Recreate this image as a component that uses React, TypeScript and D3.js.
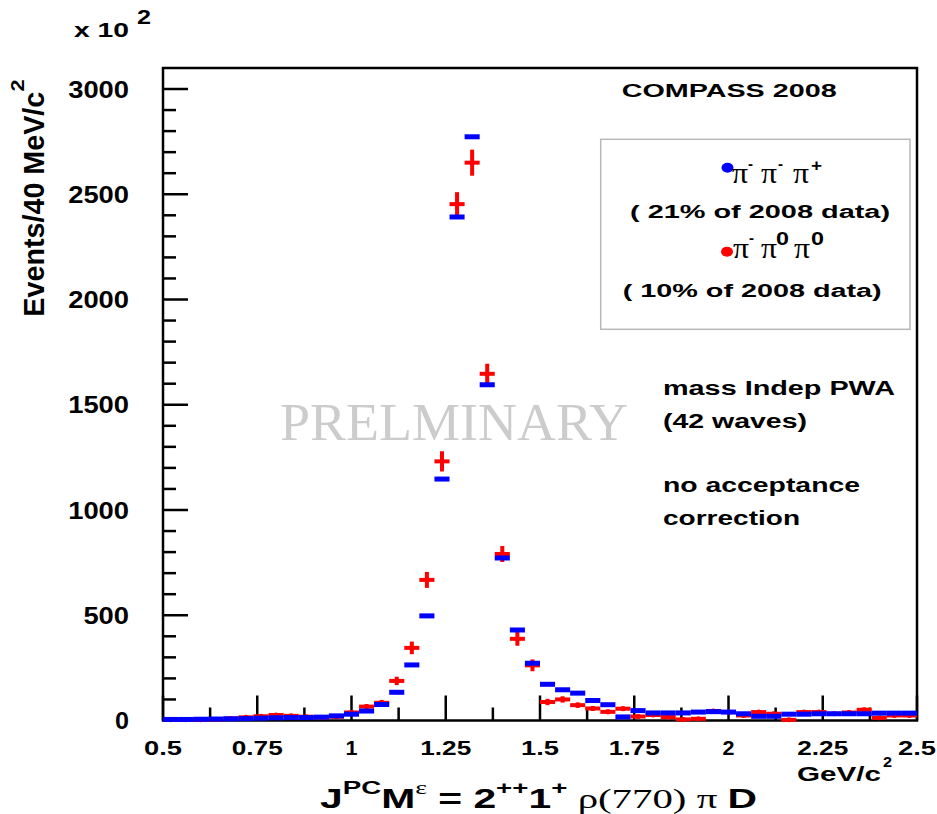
import React from "react";
import * as d3 from "d3";

// Bin centres (GeV/c^2), 40 MeV bins from 0.5 to 2.5
const binCenters = [
  0.52, 0.56, 0.6, 0.64, 0.68, 0.72, 0.76, 0.8, 0.84, 0.88,
  0.92, 0.96, 1.0, 1.04, 1.08, 1.12, 1.16, 1.2, 1.24, 1.28,
  1.32, 1.36, 1.4, 1.44, 1.48, 1.52, 1.56, 1.6, 1.64, 1.68,
  1.72, 1.76, 1.8, 1.84, 1.88, 1.92, 1.96, 2.0, 2.04, 2.08,
  2.12, 2.16, 2.2, 2.24, 2.28, 2.32, 2.36, 2.4, 2.44, 2.48,
];
const binWidth = 0.04;

// pi- pi- pi+ (blue), events / 40 MeV
const blueValues = [
  5, 5, 6, 7, 8, 9, 11, 13, 14, 14,
  16, 22, 30, 45, 76, 134, 264, 497, 1147, 2392,
  2773, 1595, 772, 430, 272, 172, 146, 130, 95, 75,
  17, 47, 36, 36, 36, 40, 42, 40, 32, 20,
  20, 30, 30, 32, 32, 32, 32, 35, 35, 35,
];

// pi- pi0 pi0 (red), events / 40 MeV
const redValues = [
  3, 3, 4, 6, 10, 15, 20, 26, 22, 18,
  15, 18, 38, 66, 84, 188, 345, 668, 1231, 2453,
  2650, 1647, 791, 388, 262, 88, 100, 73, 57, 41,
  56, 19, 26, 16, 5, 8, 45, 40, 24, 40,
  32, 3, 40, 40, 32, 38, 51, 13, 24, 24,
];
const redErrors = [
  6, 6, 6, 6, 7, 7, 8, 8, 8, 8,
  8, 8, 10, 12, 14, 20, 30, 38, 48, 57,
  62, 48, 38, 33, 28, 15, 15, 13, 12, 11,
  11, 9, 9, 9, 8, 8, 10, 10, 9, 10,
  9, 8, 10, 10, 9, 10, 10, 8, 9, 9,
];

const yMajorTicks = [0, 500, 1000, 1500, 2000, 2500, 3000];
const yMinorStep = 100;
const xMajorTicks = [0.5, 0.75, 1, 1.25, 1.5, 1.75, 2, 2.25, 2.5];
const xTickLabels = ["0.5", "0.75", "1", "1.25", "1.5", "1.75", "2", "2.25", "2.5"];
const xMinorStep = 0.125;

const W = 937;
const H = 814;
const left = 163;
const right = 917;
const top = 68;
const bottom = 720.5;

const SANS = "'Liberation Sans', Arial, Helvetica, sans-serif";
const SERIF = "'Liberation Serif', 'Times New Roman', serif";

export default function App() {
  const x = d3.scaleLinear().domain([0.5, 2.5]).range([left, right]);
  const y = d3.scaleLinear().domain([0, 3000]).range([bottom, 89]);

  const yMinor = d3.range(0, 3000 + 1, yMinorStep).filter((v) => v % 500 !== 0);
  const xMinor = d3
    .range(0.5, 2.5 + 1e-9, xMinorStep)
    .filter((v) => Math.abs((v / 0.25) - Math.round(v / 0.25)) > 1e-6);

  const labelLen = (s: string, per: number, one: number) =>
    s.length === 1 ? one : per * s.length;

  const T = (props: any) => (
    <text fontFamily={SANS} fontWeight="bold" lengthAdjust="spacingAndGlyphs" {...props} />
  );
  const P = (props: any) => (
    <text fontFamily={SERIF} fontSize={29} lengthAdjust="spacingAndGlyphs" textLength={16} {...props}>π</text>
  );

  return (
    <svg
      width={W}
      height={H}
      style={{ position: "absolute", left: 0, top: 0, background: "#fff" }}
      xmlns="http://www.w3.org/2000/svg"
    >
      <rect x={0} y={0} width={W} height={H} fill="#fff" />

      {/* x 10^2 */}
      <T x={74} y={37} fontSize={21} textLength={55}>x 10</T>
      <T x={137} y={24} fontSize={20} textLength={14}>2</T>

      {/* PRELIMINARY watermark */}
      <text x={280} y={440} fontFamily={SERIF} fontSize={53} fill="#cccccc" textLength={348} lengthAdjust="spacingAndGlyphs">PRELMINARY</text>

      {/* y ticks */}
      {yMajorTicks.map((v) => (
        <line key={"ym" + v} x1={left} x2={left + 25} y1={y(v)} y2={y(v)} stroke="#000" strokeWidth={2.5} />
      ))}
      {yMinor.map((v) => (
        <line key={"yn" + v} x1={left} x2={left + 13} y1={y(v)} y2={y(v)} stroke="#000" strokeWidth={2.5} />
      ))}
      {/* x ticks */}
      {xMajorTicks.map((v) => (
        <line key={"xm" + v} x1={x(v)} x2={x(v)} y1={bottom} y2={bottom - 25} stroke="#000" strokeWidth={2.5} />
      ))}
      {xMinor.map((v) => (
        <line key={"xn" + v} x1={x(v)} x2={x(v)} y1={bottom} y2={bottom - 13} stroke="#000" strokeWidth={2.5} />
      ))}

      {/* frame */}
      <rect x={left} y={top} width={right - left} height={bottom - top} fill="none" stroke="#000" strokeWidth={2.5} />

      {/* y tick labels */}
      {yMajorTicks.map((v) => {
        const s = String(v);
        return (
          <T
            key={"yl" + v}
            x={129}
            y={y(v) + 8.5}
            textAnchor="end"
            fontSize={23}
            textLength={labelLen(s, 15.2, 14)}
          >
            {s}
          </T>
        );
      })}

      {/* x tick labels */}
      {xMajorTicks.map((v, i) => {
        const s = xTickLabels[i];
        const len = s.length === 1 ? 12 : s.length === 3 ? 38 : 51;
        return (
          <T key={"xl" + v} x={x(v)} y={755} textAnchor="middle" fontSize={20} textLength={len}>
            {s}
          </T>
        );
      })}

      {/* axis titles */}
      <T transform="translate(43.5,316.7) rotate(-90)" fontSize={29} textLength={225}>Events/40 MeV/c</T>
      <T transform="translate(23.5,91.5) rotate(-90)" fontSize={19} textLength={12}>2</T>

      <T x={797} y={781} fontSize={20} textLength={84}>GeV/c</T>
      <T x={883} y={767} fontSize={15} textLength={9}>2</T>

      <T x={320} y={808} fontSize={28} textLength={437}>
        <tspan>J</tspan>
        <tspan fontSize={19} dy={-14}>PC</tspan>
        <tspan dy={14}>M</tspan>
        <tspan fontSize={19} fontFamily={SERIF} fontWeight="normal" dy={-14}>ε</tspan>
        <tspan dy={14}> = 2</tspan>
        <tspan fontSize={19} dy={-14}>++</tspan>
        <tspan dy={14}>1</tspan>
        <tspan fontSize={19} dy={-14}>+</tspan>
        <tspan dy={14} fontFamily={SERIF} fontWeight="normal"> ρ(770) π </tspan>
        <tspan>D</tspan>
      </T>

      {/* COMPASS label */}
      <T x={621.7} y={97.3} fontSize={18.6} textLength={215}>COMPASS 2008</T>

      {/* legend */}
      <rect x={600.7} y={139.3} width={309.3} height={190} fill="#fff" stroke="#b8b8b8" strokeWidth={1.5} />
      <ellipse cx={727.5} cy={167.7} rx={6} ry={5} fill="#0000ff" />
      <P x={732} y={183} />
      <T x={748} y={169} fontSize={14} textLength={5}>-</T>
      <P x={761} y={183} />
      <T x={778} y={169} fontSize={14} textLength={5}>-</T>
      <P x={793} y={183} />
      <T x={811} y={171} fontSize={16} textLength={11}>+</T>
      <T x={630} y={218} fontSize={18} textLength={260}>( 21% of 2008 data)</T>

      <ellipse cx={727} cy={251.7} rx={6} ry={5} fill="#ff0000" />
      <P x={733} y={258} />
      <T x={749} y={243} fontSize={14} textLength={5}>-</T>
      <P x={761} y={258} />
      <T x={776} y={245} fontSize={19} textLength={13}>0</T>
      <P x={794} y={258} />
      <T x={811} y={245} fontSize={19} textLength={13}>0</T>
      <T x={622.7} y={296.5} fontSize={18} textLength={259}>( 10% of 2008 data)</T>

      {/* annotation */}
      <T x={663} y={395} fontSize={20} textLength={232}>mass Indep PWA</T>
      <T x={663} y={428} fontSize={20} textLength={144}>(42 waves)</T>
      <T x={663} y={492} fontSize={20} textLength={197}>no acceptance</T>
      <T x={663} y={525} fontSize={20} textLength={137}>correction</T>

      {/* red data (pi- pi0 pi0) */}
      <g stroke="#ff0000" fill="#ff0000">
        {binCenters.map((m, i) => {
          const v = redValues[i];
          const e = redErrors[i];
          return (
            <g key={"r" + i}>
              <line x1={x(m - binWidth / 2)} x2={x(m + binWidth / 2)} y1={y(v)} y2={y(v)} strokeWidth={4} />
              <line x1={x(m)} x2={x(m)} y1={y(Math.max(0, v - e))} y2={y(v + e)} strokeWidth={4} />
              <circle cx={x(m)} cy={y(v)} r={2.5} stroke="none" />
            </g>
          );
        })}
      </g>

      {/* blue data (pi- pi- pi+) */}
      <g stroke="#0000ff">
        {binCenters.map((m, i) => (
          <line
            key={"b" + i}
            x1={x(m - binWidth / 2)}
            x2={x(m + binWidth / 2)}
            y1={y(blueValues[i])}
            y2={y(blueValues[i])}
            strokeWidth={5}
          />
        ))}
      </g>
    </svg>
  );
}
